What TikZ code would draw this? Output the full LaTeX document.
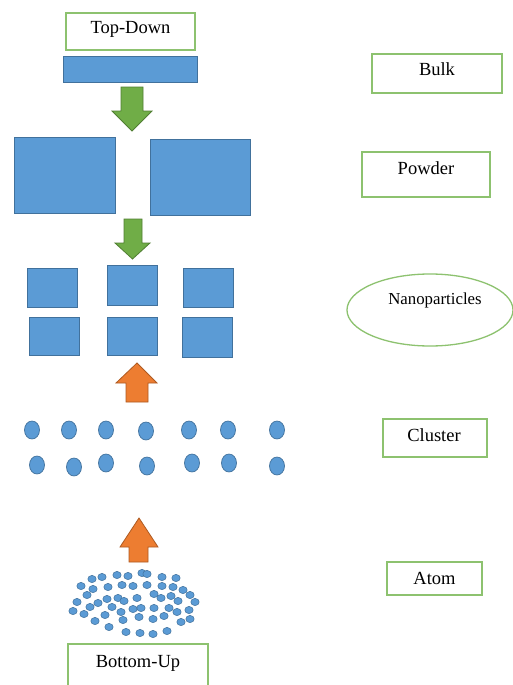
\documentclass[tikz,border=0pt]{standalone}
\usepackage{fontspec}
\setmainfont{Liberation Serif}
\usetikzlibrary{fit,shapes.geometric}

\definecolor{boxblue}{HTML}{5B9BD5}
\definecolor{boxedge}{HTML}{41719C}
\definecolor{labelgreen}{HTML}{8DC26F}
\definecolor{arrowgreen}{HTML}{70AD47}
\definecolor{arrowgreenedge}{HTML}{507E32}
\definecolor{arroworange}{HTML}{ED7D31}
\definecolor{arroworangeedge}{HTML}{AE5A21}

\tikzset{
  bluebox/.style={draw=boxedge, fill=boxblue, line width=0.9pt, inner sep=0pt},
  labelbox/.style={draw=labelgreen, line width=1.3pt, inner sep=0pt},
  labeltext/.style={font=\fontsize{18.5}{20}\selectfont, anchor=base, inner sep=0pt},
  downarrow/.style={draw=arrowgreenedge, fill=arrowgreen, line width=0.8pt, line join=miter},
  uparrow/.style={draw=arroworangeedge, fill=arroworange, line width=0.8pt, line join=miter},
  clusterdot/.style={draw=boxedge, fill=boxblue, line width=0.7pt},
  atomdot/.style={draw=boxedge, fill=boxblue, line width=0.5pt},
}

\begin{document}
\begin{tikzpicture}[x=1pt, y=-1pt]
\clip (0,0) rectangle (513,685);
\fill[white] (0,0) rectangle (513,685);

% ---- top-down column ----
\node[labelbox, fit={(66,13) (195,50)}] (topdownBox) {};
\node[labeltext] (topdownText) at (130.5,33.3) {Top-Down};

\node[bluebox, fit={(63,56) (197,82)}] (bulkBar) {};

\draw[downarrow] (121,87) -- (143,87) -- (143,111) -- (152,111) -- (132,131)
  -- (112,111) -- (121,111) -- cycle;

\node[bluebox, fit={(14,137) (115,213)}] (powderLeft) {};
\node[bluebox, fit={(150,139) (250,215)}] (powderRight) {};

\draw[downarrow] (124,219) -- (142,219) -- (142,243) -- (150,243) -- (132.5,259)
  -- (115,243) -- (124,243) -- cycle;

\node[bluebox, fit={(27,268) (77,307)}] (nanoA) {};
\node[bluebox, fit={(107,265) (157,305)}] (nanoB) {};
\node[bluebox, fit={(183,268) (233,307)}] (nanoC) {};
\node[bluebox, fit={(29,317) (79,355)}] (nanoD) {};
\node[bluebox, fit={(107,317) (157,355)}] (nanoE) {};
\node[bluebox, fit={(182,317) (232,357)}] (nanoF) {};

% ---- bottom-up column ----
\draw[uparrow] (126,402) -- (148,402) -- (148,383) -- (157,383) -- (137,363)
  -- (116,383) -- (126,383) -- cycle;

\foreach \px/\py in {32/430, 69/430, 106/430, 146/431, 189/430, 228/430, 277/430,
                     37/465, 74/467, 106/463, 147/466, 192/463, 229/463, 277/466}
  \draw[clusterdot] (\px,\py) ellipse [x radius=7.5pt, y radius=9pt];

\draw[uparrow] (129,562) -- (148,562) -- (148,547) -- (158,547) -- (139,518)
  -- (120,547) -- (129,547) -- cycle;

\foreach \px/\py in {
  92/579, 102/577, 117/575, 128/576, 142/573, 147/574, 162/577, 176/578,
  81/586, 93/589, 108/587, 122/585, 133/586, 147/585, 162/586, 173/587, 183/590,
  87/595, 77/602, 98/603, 90/607, 107/599, 118/598, 124/601, 137/598,
  154/594, 161/598, 171/596, 178/601, 190/595, 195/602,
  73/611, 84/614, 95/621, 105/615, 112/607, 121/612, 133/609, 141/608,
  154/608, 164/616, 169/608, 177/612, 189/610,
  109/627, 123/620, 139/617, 153/619, 181/622, 190/619,
  126/632, 140/633, 153/634, 167/631}
  \draw[atomdot] (\px,\py) ellipse [x radius=4.2pt, y radius=3.6pt];

\node[labelbox, fit={(68,644) (208,692)}] (bottomupBox) {};
\node[labeltext] (bottomupText) at (138,667.3) {Bottom-Up};

% ---- stage labels ----
\node[labelbox, fit={(372,54) (502,93)}] (bulkBox) {};
\node[labeltext] (bulkText) at (437,75) {Bulk};

\node[labelbox, fit={(362,152) (490,197)}] (powderBox) {};
\node[labeltext] (powderText) at (426,174) {Powder};

\node[ellipse, draw=labelgreen, line width=1.3pt, minimum width=166pt,
      minimum height=72pt, inner sep=0pt] (nanoEllipse) at (430,310) {};
\node[labeltext, font=\fontsize{16.8}{18}\selectfont] (nanoText) at (435,304.3) {Nanoparticles};

\node[labelbox, fit={(383,419) (487,457)}] (clusterBox) {};
\node[labeltext] (clusterText) at (434,441.7) {Cluster};

\node[labelbox, fit={(387,562) (482,595)}] (atomBox) {};
\node[labeltext] (atomText) at (434.5,584.3) {Atom};
\end{tikzpicture}
\end{document}
